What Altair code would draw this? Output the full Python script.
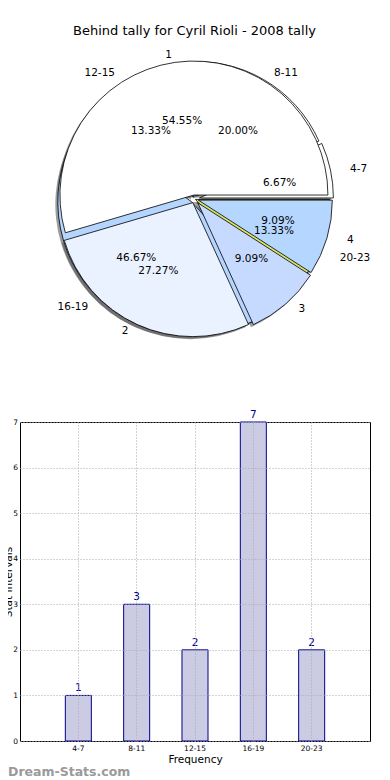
import altair as alt
import pandas as pd

# ---------------- data ----------------
ranges = ["4-7", "8-11", "12-15", "16-19", "20-23"]
range_counts = [1, 3, 2, 7, 2]
value_labels = ["1", "2", "3", "4"]
value_counts = [6, 3, 1, 1]
title_text = "Behind tally for Cyril Rioli - 2008 tally"
bar_title_x = "Frequency"
bar_title_y = "Stat Intervals"
watermark = "Dream-Stats.com"

# ---------------- styles ----------------
colors_a = ["#ffffff", "#ffffff", "#ffffff", "#b4d5fe", "#d6e26a"]
colors_b = ["#ffffff", "#ebf2ff", "#c6d9ff", "#b4d6ff"]
explode_a = [5, 4, 2, 4, 1]   # px
explode_b = [4, 4, 5, 4]      # px

CX, CY = 174.5, 190.0
R = 134
LAB_RX, LAB_RY = 159, 145
PCT_RX, PCT_RY = 87, 79
SH_DX, SH_DY = -2.5, 2.5
FONT = "DejaVu Sans"


def pie_layers(labels, counts, explode, colors):
    df = pd.DataFrame({"label": labels, "n": counts, "explode": explode,
                       "order": list(range(len(labels)))})
    base = (
        alt.Chart(df)
        .transform_joinaggregate(total="sum(n)")
        .transform_window(cum="sum(n)", sort=[alt.SortField(field="order", order="ascending")],
                          frame=[None, 0])
        .transform_calculate(a1="2*PI*(datum.cum - datum.n)/datum.total")
        .transform_calculate(a2="2*PI*datum.cum/datum.total")
        .transform_calculate(am="(datum.a1 + datum.a2)/2")
        .transform_calculate(t1="PI/2 - datum.a2")
        .transform_calculate(t2="PI/2 - datum.a1")
        .transform_calculate(pct="format(100*datum.n/datum.total, '.2f') + '%'")
        .transform_calculate(cx=f"{CX} + datum.explode*cos(datum.am)")
        .transform_calculate(cy=f"{CY} - datum.explode*sin(datum.am)")
        .transform_calculate(sx=f"datum.cx + ({SH_DX})")
        .transform_calculate(sy=f"datum.cy + ({SH_DY})")
        .transform_calculate(lx=f"{CX} + {LAB_RX}*cos(datum.am)")
        .transform_calculate(ly=f"{CY} - {LAB_RY}*sin(datum.am)")
        .transform_calculate(px=f"{CX} + {PCT_RX}*cos(datum.am)")
        .transform_calculate(py=f"{CY} - {PCT_RY}*sin(datum.am)")
        .transform_calculate(side="cos(datum.am) > 0 ? 'L' : 'R'")
    )
    theta = alt.Theta("t1:Q", scale=None, stack=False)
    shadow = base.mark_arc(radius=R, fill="#4d4d4d", opacity=0.55).encode(
        x=alt.X("sx:Q", scale=None), y=alt.Y("sy:Q", scale=None),
        theta=theta, theta2="t2:Q")
    arcs = base.mark_arc(radius=R, stroke="black", strokeWidth=0.8).encode(
        x=alt.X("cx:Q", scale=None), y=alt.Y("cy:Q", scale=None),
        theta=theta, theta2="t2:Q",
        fill=alt.Fill("label:N", scale=alt.Scale(domain=labels, range=colors), legend=None))
    lab_l = base.transform_filter("datum.side == 'L'").mark_text(
        align="left", baseline="middle", fontSize=10.5, font=FONT, color="black").encode(
        x=alt.X("lx:Q", scale=None), y=alt.Y("ly:Q", scale=None), text="label:N")
    lab_r = base.transform_filter("datum.side == 'R'").mark_text(
        align="right", baseline="middle", fontSize=10.5, font=FONT, color="black").encode(
        x=alt.X("lx:Q", scale=None), y=alt.Y("ly:Q", scale=None), text="label:N")
    pct = base.mark_text(align="center", baseline="middle", fontSize=10.5, font=FONT,
                         color="black").encode(
        x=alt.X("px:Q", scale=None), y=alt.Y("py:Q", scale=None), text="pct:N")
    return shadow, arcs, [lab_l, lab_r, pct]


sh_a, arcs_a, txt_a = pie_layers(ranges, range_counts, explode_a, colors_a)
sh_b, arcs_b, txt_b = pie_layers(value_labels, value_counts, explode_b, colors_b)

title = alt.Chart(pd.DataFrame({"t": [title_text]})).mark_text(
    align="center", baseline="middle", fontSize=13, font=FONT, color="black").encode(
    x=alt.value(CX), y=alt.value(22), text="t:N")

# shadows of both pies lie beneath all wedges
pie = alt.layer(sh_a, sh_b, arcs_a, arcs_b, *txt_a, *txt_b, title).resolve_scale(
    fill="independent").properties(
    width=350, height=413, view=alt.ViewBackground(stroke="transparent"))

# ---------------- bar chart ----------------
bar_df = pd.DataFrame({"range": ranges, "n": range_counts})
grid_kw = dict(grid=True, gridDash=[1, 2], gridColor="#a8a8a8", gridWidth=1,
               ticks=False, domain=False, labelColor="black", titleColor="black",
               labelFont=FONT, titleFont=FONT, titleFontWeight="normal", zindex=1)
bx = alt.X("range:N", sort=ranges,
           scale=alt.Scale(paddingInner=0.554, paddingOuter=0.777),
           axis=alt.Axis(title=bar_title_x, labelAngle=0, labelFontSize=7.5,
                         titleFontSize=10.5, labelPadding=3, titlePadding=3,
                         bandPosition=0.5, **grid_kw))
by = alt.Y("n:Q", scale=alt.Scale(domain=[0, 7], nice=False),
           axis=alt.Axis(title=bar_title_y, values=list(range(8)), labelFontSize=7.5,
                         titleFontSize=10.5, labelPadding=2.5,
                         titleX=-7, titleY=159.5, titleAngle=270, titleBaseline="bottom",
                         titleAlign="center", **grid_kw))

bars = alt.Chart(bar_df).mark_bar(fill="#cbcce4", stroke="#00008b", strokeWidth=1).encode(
    x=bx, y=by)
bar_text = alt.Chart(bar_df).mark_text(baseline="bottom", dy=-2, color="#00008b",
                                       fontSize=10.5, font=FONT).encode(
    x=alt.X("range:N", sort=ranges), y="n:Q", text="n:Q")
wm = alt.Chart(pd.DataFrame({"t": [watermark]})).mark_text(
    align="left", baseline="middle", fontSize=12.5, font=FONT, color="#9a9a9a",
    fontWeight="bold").encode(x=alt.value(-12), y=alt.value(350), text="t:N")

bar = alt.layer(bars, bar_text, wm).properties(
    width=350, height=319,
    view=alt.ViewBackground(stroke="black", strokeWidth=1))

chart = alt.vconcat(pie, bar, spacing=0, bounds="flush").properties(
    padding={"left": -6, "top": 0, "right": 0, "bottom": 0}
).configure(font=FONT)

chart.save("out.html", embed_options={"renderer": "svg", "actions": False})
